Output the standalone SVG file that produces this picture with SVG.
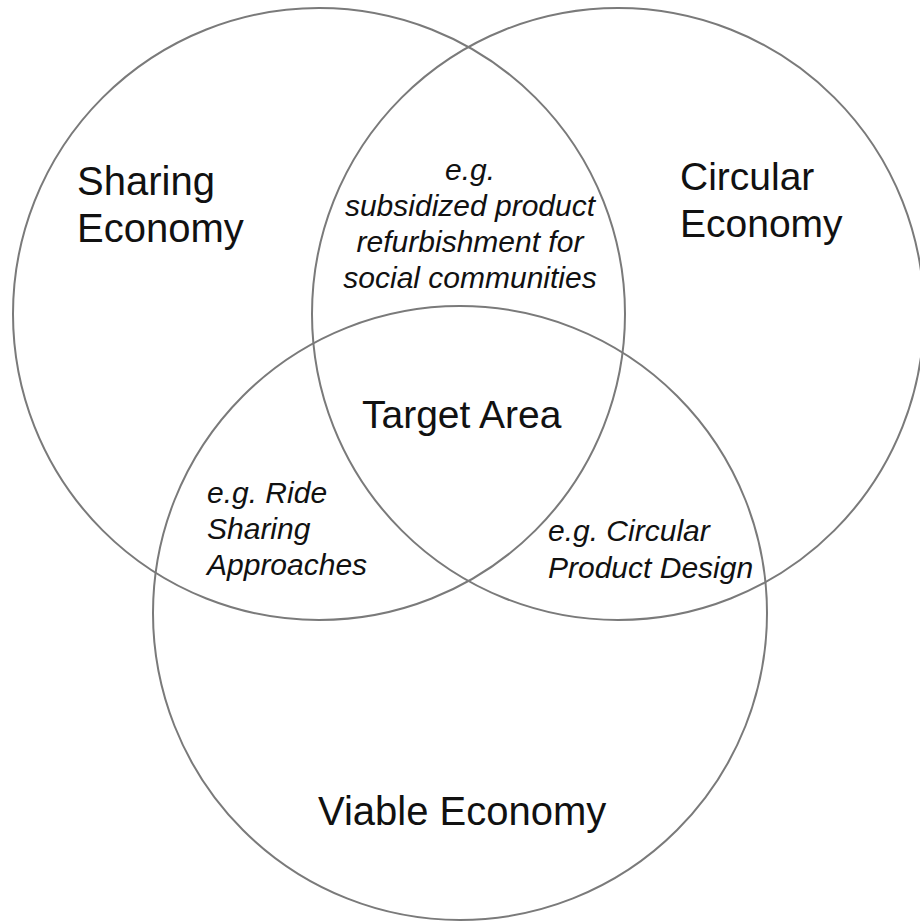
<svg xmlns="http://www.w3.org/2000/svg" width="920" height="923" viewBox="0 0 920 923">
<style>
.c{fill:none;stroke:#7a7a7a;stroke-width:2}
.t{font-family:"Liberation Sans",Arial,sans-serif;fill:#111}
.big{font-size:40px}
.it{font-size:30px;font-style:italic}
</style>
<rect width="920" height="923" fill="#fff"/>
<g id="connectors"></g>
<g id="sharing">
<circle class="c" cx="319" cy="314" r="306"/>
<text class="t big" x="77" y="195">Sharing</text>
<text class="t big" x="77" y="242">Economy</text>
</g>
<g id="circular">
<circle class="c" cx="618" cy="314" r="306"/>
<text class="t big" x="680" y="190" style="font-size:39px">Circular</text>
<text class="t big" x="680" y="237" style="font-size:39px">Economy</text>
</g>
<g id="viable">
<circle class="c" cx="460" cy="613" r="307"/>
<text class="t big" x="318" y="825">Viable Economy</text>
</g>
<g id="target">
<text class="t big" x="362" y="428" style="font-size:39px">Target Area</text>
</g>
<g id="sharing-circular">
<text class="t it" x="470" text-anchor="middle" y="180">e.g.</text>
<text class="t it" x="470" text-anchor="middle" y="216">subsidized product</text>
<text class="t it" x="470" text-anchor="middle" y="252">refurbishment for</text>
<text class="t it" x="470" text-anchor="middle" y="288">social communities</text>
</g>
<g id="sharing-viable">
<text class="t it" x="207" y="503">e.g. Ride</text>
<text class="t it" x="207" y="539">Sharing</text>
<text class="t it" x="207" y="575">Approaches</text>
</g>
<g id="circular-viable">
<text class="t it" x="548" y="541">e.g. Circular</text>
<text class="t it" x="548" y="578">Product Design</text>
</g>
</svg>
